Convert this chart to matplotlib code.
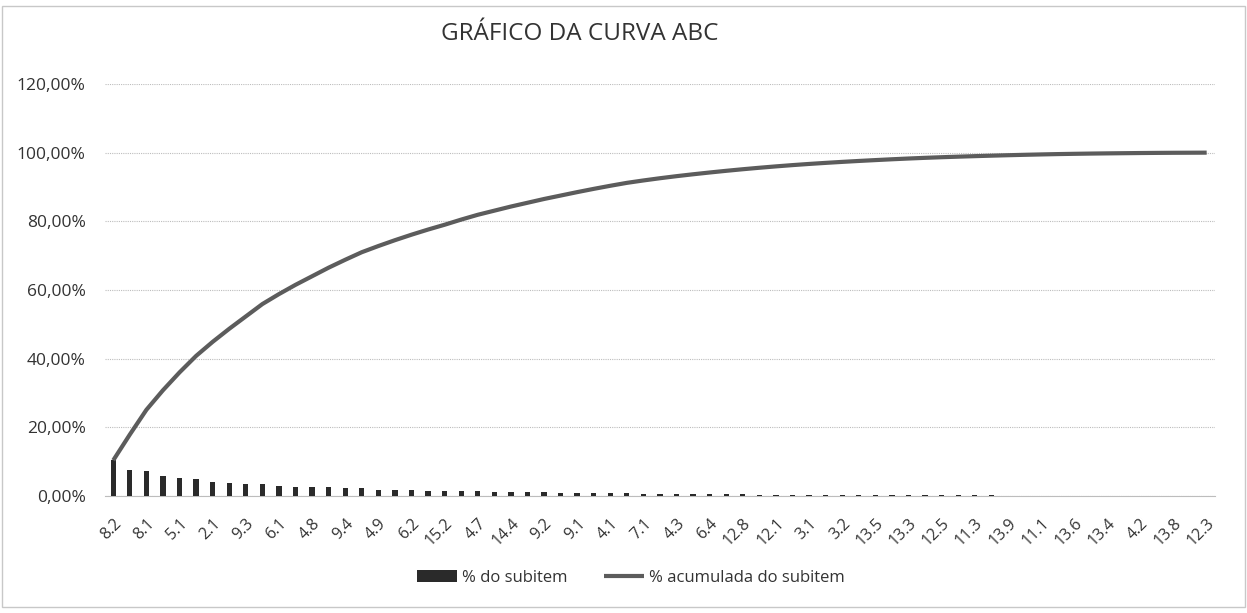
import numpy as np
import matplotlib
matplotlib.use("Agg")
import matplotlib.pyplot as plt
from matplotlib.ticker import FuncFormatter
from matplotlib.patches import Rectangle

# subitems shown on the axis (every other category carries a label)
shown_labels = ["8.2", "8.1", "5.1", "2.1", "9.3", "6.1", "4.8", "9.4", "4.9", "6.2",
                "15.2", "4.7", "14.4", "9.2", "9.1", "4.1", "7.1", "4.3", "6.4", "12.8",
                "12.1", "3.1", "3.2", "13.5", "13.3", "12.5", "11.3", "13.9", "11.1", "13.6",
                "13.4", "4.2", "13.8", "12.3"]

# % do subitem (67 subitems)
pct_subitem = [10.4, 7.5, 7.2, 5.7, 5.2, 4.8, 4.1, 3.8, 3.6, 3.6,
               2.9, 2.7, 2.5, 2.5, 2.3, 2.2, 1.8, 1.7, 1.6, 1.5,
               1.4, 1.5, 1.4, 1.2, 1.2, 1.1, 1.1, 1.0, 1.0,
               0.95, 0.9, 0.85, 0.7, 0.65, 0.6, 0.55, 0.52, 0.49, 0.46,
               0.43, 0.4, 0.37, 0.34, 0.31, 0.29, 0.27, 0.25,
               0.24, 0.22, 0.2, 0.18, 0.16, 0.15, 0.14, 0.13, 0.12, 0.11,
               0.1, 0.08, 0.07, 0.06, 0.05, 0.05, 0.04, 0.03, 0.02, 0.02]

pct = np.array(pct_subitem) / 100
pct_acum = np.cumsum(pct)
x = np.arange(len(pct))

plt.rcParams['font.family'] = ['Open Sans', 'DejaVu Sans']

fig = plt.figure(figsize=(12.47, 6.13), dpi=100)
fig.patches.append(Rectangle((0.002, 0.01), 0.996, 0.98, transform=fig.transFigure,
                             fill=False, edgecolor="#c8c8c8", linewidth=1))
ax = fig.add_axes([0.0842, 0.1909, 0.8901, 0.6721])

bars = ax.bar(x, pct, width=0.32, color="#2a2a2a", label="% do subitem", zorder=3)
line, = ax.plot(x, pct_acum, color="#5c5c5c", linewidth=3, label="% acumulada do subitem",
                zorder=4, solid_capstyle="butt", solid_joinstyle="round")

ax.set_xlim(-0.5, len(pct) - 0.5)
ax.set_ylim(0, 1.2)
ax.set_yticks(np.arange(0, 1.21, 0.2))
ax.yaxis.set_major_formatter(FuncFormatter(lambda v, p: f"{v*100:.2f}%".replace(".", ",")))
ax.set_xticks(x[::2])
ax.set_xticklabels(shown_labels, rotation=45, ha="right", rotation_mode="anchor")

ax.grid(axis="y", color="#bdbdbd", linewidth=0.8, linestyle=(0, (1, 1)), zorder=0)
for s in ["top", "right", "left"]:
    ax.spines[s].set_visible(False)
ax.spines["bottom"].set_color("#bdbdbd")
ax.tick_params(axis="y", length=0, labelsize=12.5, colors="#333333", pad=14)
ax.tick_params(axis="x", length=0, labelsize=11.5, colors="#333333", pad=14)

fig.text(0.465, 0.945, "GRÁFICO DA CURVA ABC", ha="center", va="center",
         fontsize=17.5, color="#333333")

fig.legend(handles=[bars, line], loc="center", bbox_to_anchor=(0.506, 0.057), ncol=2,
           frameon=False, fontsize=12, handlelength=2.4, columnspacing=2.2,
           handletextpad=0.3, labelcolor="#333333")

fig.savefig("out.png", dpi=100)
